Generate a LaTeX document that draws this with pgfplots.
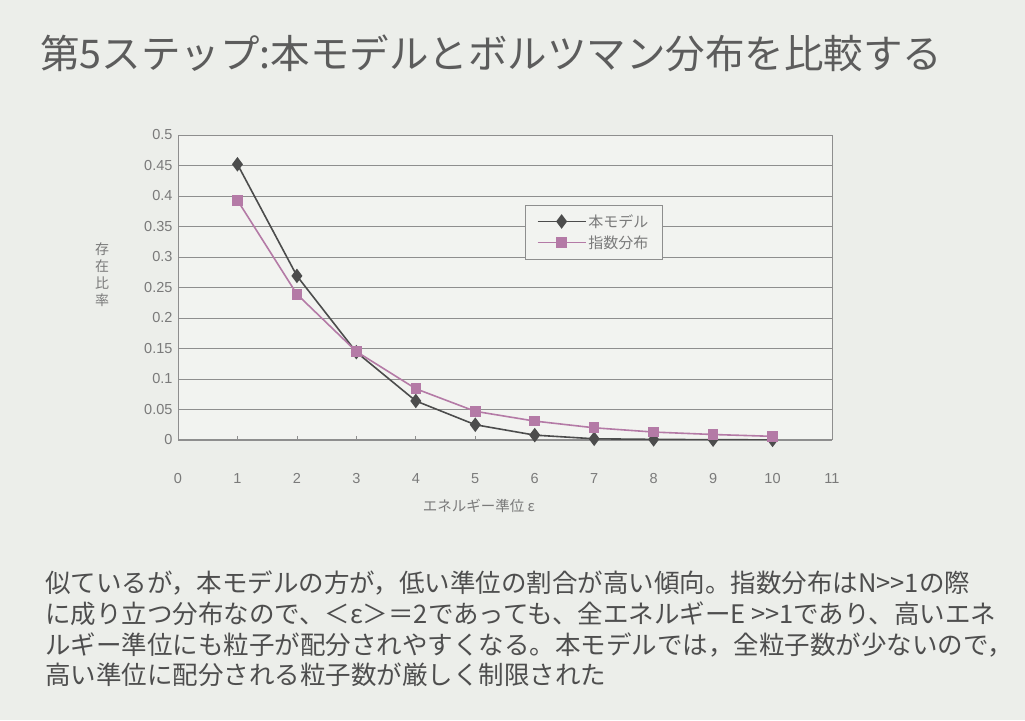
\documentclass[border=0pt]{standalone}
\usepackage{fontspec}
\setmainfont{Noto Sans CJK JP}
\newfontfamily\arial{Liberation Sans}
\usepackage{pgfplots}
\pgfplotsset{compat=1.18}
\definecolor{bg}{HTML}{ECEEEA}
\definecolor{plotbg}{HTML}{F2F3F0}
\definecolor{titlec}{HTML}{5C5C5C}
\definecolor{bodyc}{HTML}{4E4E4E}
\definecolor{tickc}{HTML}{7A7A7A}
\definecolor{gridc}{HTML}{8E8E8E}
\definecolor{ser1}{HTML}{4C4C4C}
\definecolor{ser2}{HTML}{B47AA6}
\begin{document}
\begin{tikzpicture}[x=1pt,y=1pt]
\useasboundingbox (0,0) rectangle (1025,720);
\fill[bg] (0,0) rectangle (1025,720);
% title
\node[anchor=west, text=titlec, inner sep=0pt] at (40,667) {\fontsize{39.5}{44}\selectfont 第5ステップ:本モデルとボルツマン分布を比較する};
% y label (vertical)
\node[text=tickc, inner sep=0pt, align=center, font=\fontsize{14}{17}\selectfont] at (102,445) {存\\在\\比\\率};
\begin{axis}[
  at={(178pt,280pt)}, anchor=south west,
  scale only axis, width=654pt, height=305pt,
  xmin=0, xmax=11, ymin=0, ymax=0.5,
  xtick={0,1,...,11},
  ytick={0,0.05,0.1,0.15,0.2,0.25,0.3,0.35,0.4,0.45,0.5},
  yticklabels={0,0.05,0.1,0.15,0.2,0.25,0.3,0.35,0.4,0.45,0.5},
  xticklabel shift=30pt,
  ymajorgrids,
  grid style={gridc, line width=0.9pt},
  axis line style={gridc, line width=1pt},
  axis background/.style={fill=plotbg},
  tick style={gridc, line width=0.8pt},
  major tick length=4pt,
  ytick style={draw=none},
  xtick pos=bottom,
  yticklabel style={xshift=-2pt},
  tick label style={font=\arial\fontsize{14.5}{14.5}\selectfont, text=tickc},
  /pgf/number format/assume math mode=true,
  xlabel={エネルギー準位 ε},
  xlabel style={font=\fontsize{14.5}{14.5}\selectfont, text=tickc, at={(axis description cs:0.46,0)}, anchor=north, yshift=-56pt},
  legend style={at={(0.53,0.77)}, anchor=north west, draw=gridc, fill=plotbg,
    font=\fontsize{15}{18}\selectfont, text=tickc, inner xsep=12pt, inner ysep=7pt, row sep=3pt},
  legend image code/.code={
    \draw[#1, line width=1.6pt, mark repeat=2, mark phase=2] plot coordinates {(0pt,0pt) (24pt,0pt) (48pt,0pt)};
  },
  legend cell align=left,
]
\addplot[ser1, line width=1.6pt, mark=diamond*, mark size=6pt, mark options={fill=ser1}]
coordinates {(1,0.452) (2,0.269) (3,0.144) (4,0.064) (5,0.025) (6,0.008) (7,0.002) (8,0.001) (9,0.0005) (10,0.0002)};
\addlegendentry{本モデル}
\addplot[ser2, line width=1.6pt, mark=square*, mark size=4.5pt, mark options={fill=ser2}]
coordinates {(1,0.393) (2,0.239) (3,0.145) (4,0.084) (5,0.047) (6,0.031) (7,0.02) (8,0.013) (9,0.009) (10,0.006)};
\addlegendentry{指数分布}
\end{axis}
% body text
\begin{scope}[every node/.style={anchor=west, text=bodyc, inner sep=0pt}]
\node at (45,137) {\fontsize{25.5}{30}\selectfont 似ているが，本モデルの方が，低い準位の割合が高い傾向。指数分布はN>{}>1の際};
\node at (45,106) {\fontsize{25.5}{30}\selectfont に成り立つ分布なので、＜ε＞＝2であっても、全エネルギーE >{}>1であり、高いエネ};
\node at (45,75) {\fontsize{25.5}{30}\selectfont ルギー準位にも粒子が配分されやすくなる。本モデルでは，全粒子数が少ないので，};
\node at (45,45) {\fontsize{25.5}{30}\selectfont 高い準位に配分される粒子数が厳しく制限された};
\end{scope}
\end{tikzpicture}
\end{document}
